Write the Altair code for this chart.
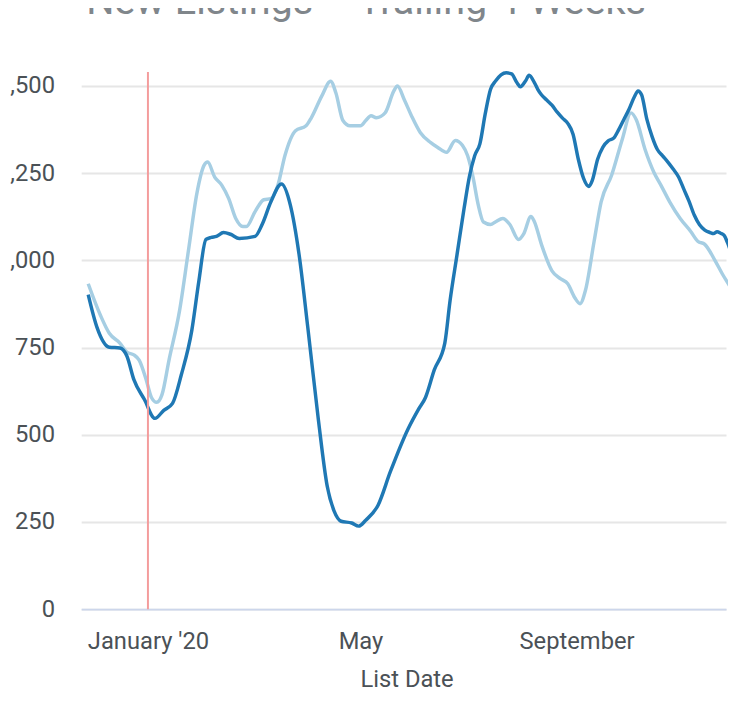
import json
import altair as alt
import pandas as pd

# ---- data ----
this_year_dates = [
    "2019-11-28", "2019-12-03", "2019-12-10", "2019-12-16", "2019-12-20", "2019-12-24",
    "2019-12-30", "2020-01-05", "2020-01-10", "2020-01-15", "2020-01-20", "2020-01-26",
    "2020-01-30", "2020-02-03", "2020-02-06", "2020-02-09", "2020-02-13", "2020-02-17",
    "2020-02-22", "2020-03-02", "2020-03-06", "2020-03-11", "2020-03-17", "2020-03-22",
    "2020-03-27", "2020-04-01", "2020-04-07", "2020-04-12", "2020-04-16", "2020-04-20",
    "2020-04-26", "2020-04-30", "2020-05-04", "2020-05-11", "2020-05-18", "2020-05-28",
    "2020-06-03", "2020-06-07", "2020-06-12", "2020-06-18", "2020-06-21", "2020-06-25",
    "2020-06-29", "2020-07-02", "2020-07-05", "2020-07-08", "2020-07-11", "2020-07-14",
    "2020-07-17", "2020-07-20", "2020-07-23", "2020-07-26", "2020-07-29", "2020-07-31",
    "2020-08-03", "2020-08-05", "2020-08-08", "2020-08-10", "2020-08-12", "2020-08-15",
    "2020-08-18", "2020-08-21", "2020-08-24", "2020-08-27", "2020-08-30", "2020-09-02",
    "2020-09-05", "2020-09-08", "2020-09-10", "2020-09-13", "2020-09-16", "2020-09-19",
    "2020-09-22", "2020-09-25", "2020-09-28", "2020-10-01", "2020-10-04", "2020-10-06",
    "2020-10-08", "2020-10-11", "2020-10-14", "2020-10-17", "2020-10-20", "2020-10-23",
    "2020-10-26", "2020-10-29", "2020-11-01", "2020-11-04", "2020-11-07", "2020-11-10",
    "2020-11-13", "2020-11-16", "2020-11-18", "2020-11-20", "2020-11-22", "2020-11-24",
    "2020-11-26", "2020-11-28",
]
this_year_values = [
    902, 808, 751, 749, 726, 658,
    601, 547, 570, 590, 672, 800,
    941, 1060, 1066, 1069, 1080, 1075,
    1063, 1069, 1103, 1168, 1219, 1160,
    1018, 808, 544, 354, 281, 252,
    247, 238, 255, 298, 394, 516,
    573, 607, 686, 763, 885, 1018,
    1150, 1240, 1300, 1335, 1420, 1490,
    1515, 1532, 1538, 1535, 1510, 1498,
    1515, 1531, 1510, 1490, 1475, 1460,
    1445, 1425, 1408, 1393, 1362, 1290,
    1235, 1212, 1230, 1290, 1325, 1343,
    1350, 1375, 1405, 1435, 1470, 1486,
    1475, 1405, 1355, 1318, 1300, 1282,
    1262, 1240, 1205, 1170, 1130, 1102,
    1087, 1080, 1077, 1082, 1078, 1072,
    1050, 1022,
]

last_year_dates = [
    "2019-11-28", "2019-12-05", "2019-12-10", "2019-12-16", "2019-12-20", "2019-12-24",
    "2019-12-27", "2019-12-31", "2020-01-03", "2020-01-06", "2020-01-09", "2020-01-13",
    "2020-01-19", "2020-01-24", "2020-01-29", "2020-02-02", "2020-02-04", "2020-02-08",
    "2020-02-12", "2020-02-16", "2020-02-20", "2020-02-24", "2020-02-26", "2020-03-02",
    "2020-03-07", "2020-03-11", "2020-03-15", "2020-03-19", "2020-03-25", "2020-03-31",
    "2020-04-03", "2020-04-09", "2020-04-14", "2020-04-17", "2020-04-21", "2020-04-25",
    "2020-05-01", "2020-05-04", "2020-05-07", "2020-05-10", "2020-05-15", "2020-05-20",
    "2020-05-22", "2020-05-26", "2020-05-30", "2020-06-04", "2020-06-10", "2020-06-14",
    "2020-06-19", "2020-06-24", "2020-06-28", "2020-07-01", "2020-07-04", "2020-07-07",
    "2020-07-10", "2020-07-14", "2020-07-17", "2020-07-21", "2020-07-25", "2020-07-30",
    "2020-08-02", "2020-08-06", "2020-08-08", "2020-08-12", "2020-08-18", "2020-08-23",
    "2020-08-27", "2020-08-31", "2020-09-03", "2020-09-06", "2020-09-11", "2020-09-15",
    "2020-09-21", "2020-09-27", "2020-10-02", "2020-10-05", "2020-10-10", "2020-10-15",
    "2020-10-19", "2020-10-24", "2020-10-30", "2020-11-05", "2020-11-09", "2020-11-13",
    "2020-11-19", "2020-11-23", "2020-11-29",
]
last_year_values = [
    933, 842, 791, 763, 737, 729,
    714, 658, 607, 593, 615, 714,
    856, 1026, 1196, 1273, 1282, 1239,
    1216, 1177, 1120, 1097, 1097, 1140,
    1174, 1177, 1216, 1301, 1372, 1386,
    1409, 1472, 1514, 1480, 1401, 1386,
    1386, 1401, 1415, 1409, 1423, 1486,
    1500, 1460, 1415, 1367, 1338, 1324,
    1310, 1344, 1330, 1300, 1240, 1160,
    1110, 1103, 1111, 1120, 1103, 1060,
    1077, 1126, 1111, 1046, 970, 947,
    933, 893, 876, 913, 1055, 1168,
    1245, 1347, 1423, 1403, 1318, 1253,
    1216, 1168, 1120, 1083, 1055, 1046,
    998, 961, 913,
]

series_names = ["Last Year", "This Year"]
series_colors = ["#a6cee3", "#1f78b4"]

y_ticks = [0, 250, 500, 750, 1000, 1250, 1500]
x_tick_dates = ["2020-01-01", "2020-05-01", "2020-09-01"]
x_tick_labels = ["January '20", "May", "September"]
marker_dates = ["2020-01-01"]

title_text = "New Listings \u2013 Trailing 4 Weeks"
x_title = "List Date"

# ---- build tables ----
df_this = pd.DataFrame({"date": this_year_dates, "value": this_year_values, "series": series_names[1]})
df_last = pd.DataFrame({"date": last_year_dates, "value": last_year_values, "series": series_names[0]})
df_marker = pd.DataFrame({"date": marker_dates})


def dt(s, hours=0, minutes=0):
    y, m, d = (int(p) for p in s.split("-"))
    return alt.DateTime(year=y, month=m, date=d, hours=hours, minutes=minutes, utc=True)


label_parts = []
for d, lab in zip(x_tick_dates, x_tick_labels):
    label_parts.append(f"utcmonth(datum.value) == {int(d[5:7]) - 1} ? {json.dumps(lab)}")
label_expr = " : ".join(label_parts) + " : ''"

FONT = "Roboto"
LABEL_COLOR = "#4b5156"

x_enc = alt.X(
    "date:T",
    scale=alt.Scale(type="utc", domain=[dt("2019-11-24", 0), dt("2020-11-25", 2)]),
    axis=alt.Axis(
        values=[dt(d) for d in x_tick_dates],
        labelExpr=label_expr,
        labelFont=FONT,
        labelFontSize=24,
        labelColor=LABEL_COLOR,
        labelPadding=21,
        labelFlush=False,
        labelOverlap=False,
        ticks=False,
        tickSize=0,
        grid=False,
        domainColor="#ccd6eb",
        domainWidth=2,
        title=x_title,
        titleFont=FONT,
        titleFontSize=24,
        titleFontWeight="normal",
        titleColor=LABEL_COLOR,
        titlePadding=14,
        titleX=329,
    ),
)

y_enc = alt.Y(
    "value:Q",
    scale=alt.Scale(domain=[0, 1540], nice=False, zero=True),
    axis=alt.Axis(
        values=y_ticks,
        format=",.0f",
        labelFont=FONT,
        labelFontSize=24,
        labelColor=LABEL_COLOR,
        labelPadding=27,
        ticks=False,
        tickSize=0,
        domain=False,
        gridColor="#e6e6e6",
        gridWidth=2,
        title=None,
    ),
)

last_line = alt.Chart(df_last).mark_line(
    strokeWidth=3.5, interpolate="monotone", color=series_colors[0]
).encode(x=x_enc, y=y_enc)

this_line = alt.Chart(df_this).mark_line(
    strokeWidth=3.5, interpolate="monotone", color=series_colors[1]
).encode(x="date:T", y="value:Q")

marker = alt.Chart(df_marker).mark_rule(color="#f49c9c", strokeWidth=2).encode(x="date:T")

chart = (
    alt.layer(last_line, this_line, marker)
    .properties(
        width=652,
        height=543,
        autosize=alt.AutoSizeParams(type="none"),
        padding={"left": 74, "top": 61, "right": 2, "bottom": 81},
        title=alt.TitleParams(
            text=title_text,
            font=FONT,
            fontSize=40,
            fontWeight="normal",
            color="#80868b",
            anchor="middle",
            baseline="alphabetic",
            offset=12,
            dx=-38,
        ),
    )
    .configure_view(stroke=None)
)

chart.save("out.html", embed_options={"renderer": "svg", "actions": False})
